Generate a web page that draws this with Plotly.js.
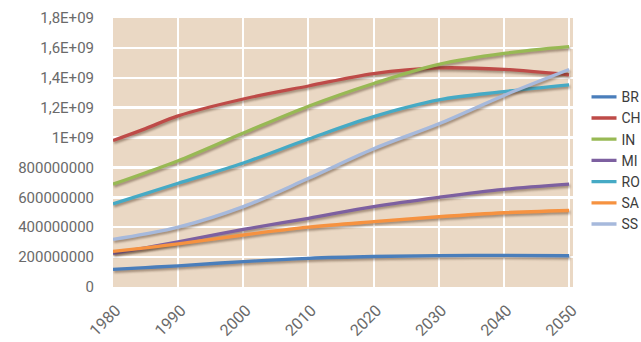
<!DOCTYPE html>
<html>
<head>
<meta charset="utf-8">
<script src="https://cdn.plot.ly/plotly-3.0.1.min.js"></script>
<style>
html,body{margin:0;padding:0;background:#fff;}
#chart{width:641px;height:342px;}
.scatterlayer path.js-line{filter:drop-shadow(1.5px 2px 1.2px rgba(70,45,25,0.45));}
.legendlines path{stroke-dasharray:0,5,25 !important;}
</style>
</head>
<body>
<div id="chart"></div>
<script>
const years = [1980, 1985, 1990, 2000, 2010, 2020, 2030, 2040, 2050];

const seriesNames = ["BR", "CH", "IN", "MI", "RO", "SA", "SS"];

const brazil   = [0.118e9, 0.130e9, 0.142e9, 0.170e9, 0.192e9, 0.204e9, 0.210e9, 0.212e9, 0.209e9];
const china    = [0.980e9, 1.060e9, 1.145e9, 1.258e9, 1.345e9, 1.428e9, 1.466e9, 1.456e9, 1.420e9];
const india    = [0.688e9, 0.765e9, 0.845e9, 1.030e9, 1.210e9, 1.362e9, 1.490e9, 1.563e9, 1.608e9];
const mideast  = [0.225e9, 0.262e9, 0.302e9, 0.385e9, 0.460e9, 0.538e9, 0.600e9, 0.653e9, 0.688e9];
const restAsia = [0.556e9, 0.625e9, 0.694e9, 0.830e9, 0.990e9, 1.140e9, 1.252e9, 1.307e9, 1.352e9];
const southAm  = [0.238e9, 0.262e9, 0.288e9, 0.348e9, 0.400e9, 0.437e9, 0.470e9, 0.497e9, 0.512e9];
const subSahara= [0.318e9, 0.355e9, 0.400e9, 0.538e9, 0.727e9, 0.925e9, 1.092e9, 1.282e9, 1.455e9];

const seriesValues = [brazil, china, india, mideast, restAsia, southAm, subSahara];
const colors = ["#4a7ebb", "#be4b48", "#98b954", "#7d60a0", "#46aac5", "#f69240", "#a6b9dc"];

const yTickVals = [0, 2e8, 4e8, 6e8, 8e8, 1e9, 1.2e9, 1.4e9, 1.6e9, 1.8e9];
const yTickText = ["0", "200000000", "400000000", "600000000", "800000000", "1E+09", "1,2E+09", "1,4E+09", "1,6E+09", "1,8E+09"];
const xTickVals = [1980, 1990, 2000, 2010, 2020, 2030, 2040, 2050];

const traces = seriesNames.map((name, i) => ({
  type: "scatter",
  mode: "lines",
  name: name,
  x: years,
  y: seriesValues[i],
  line: {color: colors[i], width: 3.3, shape: "spline", smoothing: 1},
  hoverinfo: "skip"
}));

const layout = {
  width: 641,
  height: 342,
  margin: {l: 113, r: 68, t: 18, b: 55, autoexpand: false},
  paper_bgcolor: "#ffffff",
  plot_bgcolor: "#ead8c4",
  font: {family: "Roboto, 'Open Sans', sans-serif", color: "#6a6a6a", size: 15},
  showlegend: true,
  legend: {
    x: 1.0185, xanchor: "left",
    y: 0.765, yanchor: "top",
    bgcolor: "rgba(0,0,0,0)",
    font: {size: 14, color: "#3c3c3c"},
    tracegroupgap: 0
  },
  xaxis: {
    range: [1980, 2050.6],
    tickmode: "array",
    tickvals: xTickVals,
    tickangle: -45,
    showgrid: true,
    gridcolor: "#ffffff",
    gridwidth: 2,
    zeroline: false,
    showline: false,
    ticks: "",
    ticklabelstandoff: 10,
    ticklabelshift: 3,
    tickfont: {size: 16, color: "#6a6a6a"},
    fixedrange: true
  },
  yaxis: {
    range: [0, 1.8e9],
    tickmode: "array",
    tickvals: yTickVals,
    ticktext: yTickText,
    showgrid: true,
    gridcolor: "#ffffff",
    gridwidth: 2.5,
    zeroline: false,
    showline: false,
    ticks: "",
    ticklabelstandoff: 18,
    tickfont: {size: 15, color: "#6a6a6a"},
    fixedrange: true
  }
};

Plotly.newPlot("chart", traces, layout, {staticPlot: true, displayModeBar: false});
</script>
</body>
</html>
